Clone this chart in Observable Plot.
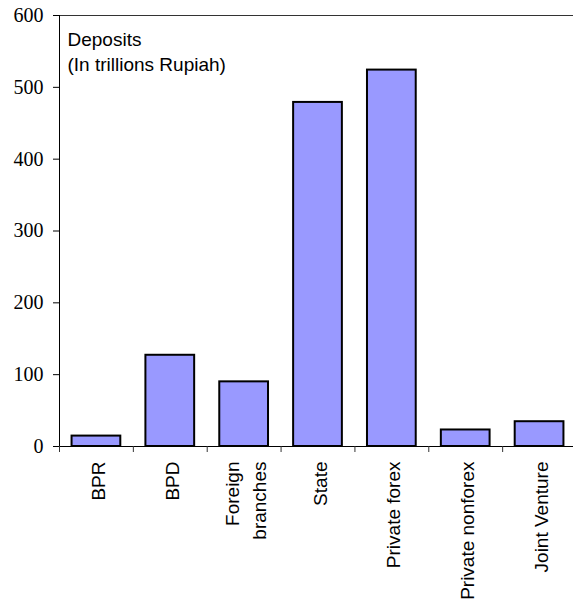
<!DOCTYPE html>
<html>
<head>
<meta charset="utf-8">
<script src="https://cdn.jsdelivr.net/npm/d3@7"></script>
<script src="https://cdn.jsdelivr.net/npm/@observablehq/plot@0.6"></script>
<style>
  html, body { margin: 0; padding: 0; background: white; overflow: hidden; }
  #chart svg { max-width: none !important; display: block; }
</style>
</head>
<body>
<div id="chart"></div>
<script>
// ---- data ----
const categories = ["BPR", "BPD", "Foreign branches", "State", "Private forex", "Private nonforex", "Joint Venture"];
const tickLabels = ["BPR", "BPD", "Foreign\nbranches", "State", "Private forex", "Private nonforex", "Joint Venture"];
const deposits = [14.5, 127, 90, 479, 524, 23, 34.5];
const yTicks = [0, 100, 200, 300, 400, 500, 600];
const titleLines = ["Deposits", "(In trillions Rupiah)"];

const data = categories.map((c, i) => ({category: c, value: deposits[i]}));
const labelOf = new Map(categories.map((c, i) => [c, tickLabels[i]]));

const W = 576, H = 610;
const mL = 59, mR = 0, mT = 15, mB = 164;
const step = (W - mL - mR) / categories.length;

const chart = Plot.plot({
  width: W,
  height: H,
  marginLeft: mL,
  marginRight: mR,
  marginTop: mT,
  marginBottom: mB,
  style: {background: "white", overflow: "visible"},
  x: {domain: categories, paddingInner: 0.34, paddingOuter: 0.17, round: false, label: null},
  y: {domain: [0, 600], label: null},
  marks: [
    Plot.ruleY([600], {stroke: "#333", strokeWidth: 1}),
    Plot.barY(data, {x: "category", y: "value", fill: "#9999FF", stroke: "black", strokeWidth: 2}),
    Plot.ruleY([0], {stroke: "black", strokeWidth: 1}),
    Plot.ruleX([categories[0]], {y1: 0, y2: 600, dx: -step / 2, stroke: "black", strokeWidth: 1}),
    Plot.axisY({
      ticks: yTicks, tickSize: 6, tickPadding: 10,
      fontFamily: "Liberation Serif", fontSize: 20, tickFormat: d => String(d),
      stroke: "black", fill: "black", label: null
    }),
    Plot.axisX({
      tickSize: 6, tickFormat: () => "", dx: -step / 2, stroke: "#333", label: null
    }),
    Plot.axisX({
      tickSize: 0, tickPadding: 15, tickRotate: -90, textAnchor: "end", lineAnchor: "middle",
      fontFamily: "Liberation Sans", fontSize: 19, lineHeight: 1.4,
      tickFormat: d => labelOf.get(d), fill: "black", label: null
    }),
    Plot.text([titleLines.join("\n")], {
      frameAnchor: "top-left", textAnchor: "start", lineAnchor: "top",
      dx: 8, dy: 13, fontFamily: "Liberation Sans", fontSize: 19, lineHeight: 1.32, fill: "black"
    })
  ]
});
document.getElementById("chart").appendChild(chart);
</script>
</body>
</html>
